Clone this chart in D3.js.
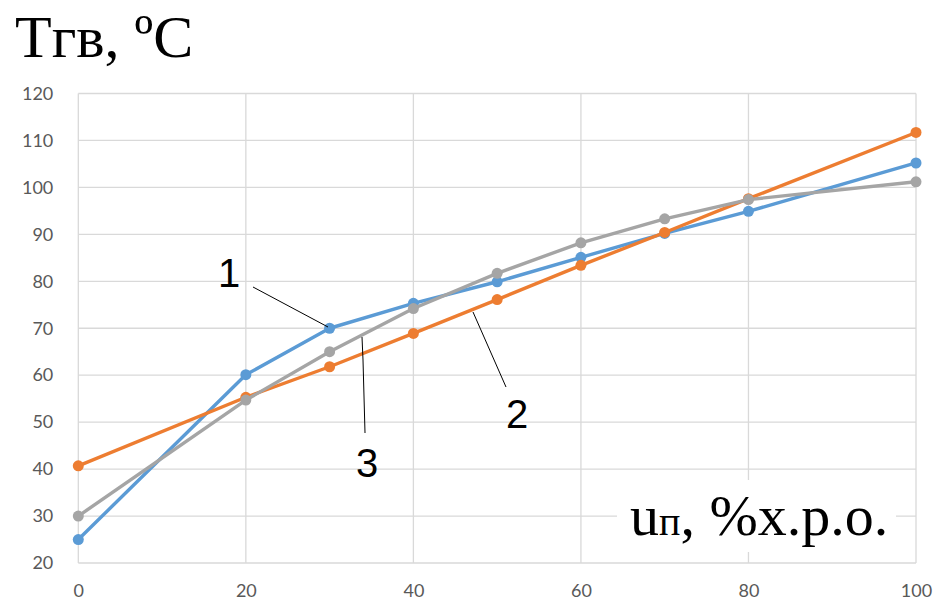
<!DOCTYPE html>
<html>
<head>
<meta charset="utf-8">
<script src="https://cdn.jsdelivr.net/npm/d3@7/dist/d3.min.js"></script>
<style>
  html, body { margin: 0; padding: 0; background: #fff; }
  svg { display: block; }
</style>
</head>
<body>
<svg id="chart" width="938" height="604"></svg>
<script>
// Hot-water temperature vs. valve position for three regulation modes
const xValues = [0, 20, 30, 40, 50, 60, 70, 80, 100];
const series1 = [25, 60.1, 70, 75.3, 79.9, 85.1, 90.2, 94.9, 105.2];
const series2 = [40.7, 55.3, 61.8, 68.9, 76.1, 83.4, 90.4, 97.6, 111.7];
const series3 = [30, 54.7, 65, 74.2, 81.7, 88.2, 93.3, 97.4, 101.2];
const xTicks = [0, 20, 40, 60, 80, 100];
const yTicks = [20, 30, 40, 50, 60, 70, 80, 90, 100, 110, 120];

const svg = d3.select("#chart");
const x = d3.scaleLinear().domain([0, 100]).range([78.3, 916]);
const y = d3.scaleLinear().domain([20, 120]).range([563, 93.5]);

const gridColor = "#d9d9d9";
const tickColor = "#595959";

// gridlines
svg.append("g").selectAll("line").data(yTicks).join("line")
  .attr("x1", x(0)).attr("x2", x(100))
  .attr("y1", d => y(d)).attr("y2", d => y(d))
  .attr("stroke", gridColor).attr("stroke-width", 1.3);
svg.append("g").selectAll("line").data(xTicks).join("line")
  .attr("x1", d => x(d)).attr("x2", d => x(d))
  .attr("y1", y(20)).attr("y2", y(120))
  .attr("stroke", gridColor).attr("stroke-width", 1.3);

// axes (labels only)
const tickFont = "Lato, 'Open Sans', sans-serif";
const yAxis = d3.axisLeft(y).tickValues(yTicks).tickSize(0).tickPadding(25);
svg.append("g").attr("transform", `translate(${x(0)},0)`).call(yAxis)
  .call(g => g.select(".domain").remove())
  .call(g => g.selectAll("text").attr("fill", tickColor)
    .style("font-family", tickFont).style("font-size", "18px"));
const xAxis = d3.axisBottom(x).tickValues(xTicks).tickSize(0).tickPadding(21);
svg.append("g").attr("transform", `translate(0,${y(20)})`).call(xAxis)
  .call(g => g.select(".domain").remove())
  .call(g => g.selectAll("text").attr("fill", tickColor)
    .style("font-family", tickFont).style("font-size", "18px"));

// series lines and markers
const line = d3.line().x((d, i) => x(xValues[i])).y(d => y(d));
const all = [
  { values: series1, color: "#5b9bd5" },
  { values: series2, color: "#ed7d31" },
  { values: series3, color: "#a5a5a5" }
];
all.forEach(s => {
  const g = svg.append("g");
  g.append("path").attr("d", line(s.values))
    .attr("fill", "none").attr("stroke", s.color)
    .attr("stroke-width", 3.4).attr("stroke-linejoin", "round");
  g.selectAll("circle").data(s.values).join("circle")
    .attr("cx", (d, i) => x(xValues[i])).attr("cy", d => y(d))
    .attr("r", 5.5).attr("fill", s.color);
});

// curve labels with leader lines
const labelFont = "'Liberation Sans', Arial, sans-serif";
const leader = (pts) => svg.append("polyline")
  .attr("points", pts.map(p => p.join(",")).join(" "))
  .attr("fill", "none").attr("stroke", "#000").attr("stroke-width", 1);
leader([[253, 287], [328, 327]]);
leader([[473, 312], [506, 387]]);
leader([[362, 337], [363, 360], [365, 433]]);
[["1", 229, 287], ["2", 517, 428], ["3", 367, 477]].forEach(([t, cx, by]) => {
  svg.append("text").attr("x", cx).attr("y", by).attr("text-anchor", "middle")
    .style("font-family", labelFont).style("font-size", "40px").attr("fill", "#000").text(t);
});

// axis titles
const serif = "'Liberation Serif', 'Times New Roman', serif";
svg.append("text").attr("x", 15).attr("y", 57)
  .style("font-family", serif).style("font-size", "60px").attr("fill", "#000")
  .text("Tгв, ºС");

const xt = svg.append("g");
xt.append("rect").attr("x", 617).attr("y", 480).attr("width", 279).attr("height", 72).attr("fill", "#fff");
const xtext = xt.append("text").attr("x", 630).attr("y", 535)
  .style("font-family", serif).style("font-size", "58px").attr("fill", "#000");
xtext.append("tspan").text("u");
xtext.append("tspan").style("font-size", "40px").text("п");
xtext.append("tspan").text(", %х.р.о.");
</script>
</body>
</html>
